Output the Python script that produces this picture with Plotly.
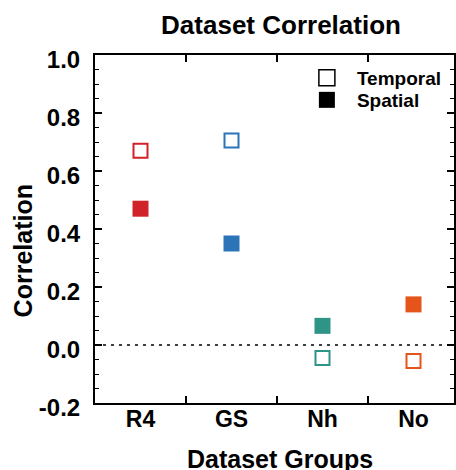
import plotly.graph_objects as go

groups = ["R4", "GS", "Nh", "No"]
temporal = [0.67, 0.705, -0.045, -0.055]
spatial = [0.47, 0.35, 0.066, 0.14]
colors = ["#d1222a", "#2c74b8", "#2f9488", "#e5541b"]
yticks = [-0.2, 0.0, 0.2, 0.4, 0.6, 0.8, 1.0]
ytick_labels = ["-0.2", "0.0", "0.2", "0.4", "0.6", "0.8", "1.0"]

FONT = "Liberation Sans, Arial, Helvetica, sans-serif"

L, T, B, H, W = 95, 55, 403, 470, 456
PW = W - L
PH = B - T

def px_x(x):
    return (x - L) / PW

def px_y(y):
    return (B - y) / PH

fig = go.Figure()

# Data traces
fig.add_trace(go.Scatter(
    x=groups, y=temporal, mode="markers", showlegend=False,
    marker=dict(symbol="square-open", size=14, color=colors, line=dict(width=2, color=colors)),
))
fig.add_trace(go.Scatter(
    x=groups, y=spatial, mode="markers", showlegend=False,
    marker=dict(symbol="square", size=16, color=colors, line=dict(width=0)),
))

# Legend entries (black)
fig.add_trace(go.Scatter(
    x=[None], y=[None], mode="markers", name="Temporal", legend="legend",
    marker=dict(symbol="square-open", size=16, color="black", line=dict(width=1.5, color="black")),
))
fig.add_trace(go.Scatter(
    x=[None], y=[None], mode="markers", name="Spatial", legend="legend2",
    marker=dict(symbol="square", size=16, color="black"),
))

# zero reference line
fig.add_shape(type="line", xref="paper", yref="y", x0=0, x1=1, y0=0, y1=0,
              line=dict(color="black", width=1.5, dash="3px,5px"))

legend_common = dict(xanchor="left", yanchor="middle",
                     bgcolor="rgba(0,0,0,0)", borderwidth=0, itemwidth=50,
                     font=dict(size=19, family=FONT, weight="bold", color="black"))

fig.update_layout(
    width=W, height=H,
    margin=dict(l=L, r=0, t=T, b=H - B),
    paper_bgcolor="white", plot_bgcolor="white",
    font=dict(family=FONT, color="black", size=22, weight="bold"),
    title=dict(text="Dataset Correlation", x=281/W, xref="container", xanchor="center",
               y=1 - 25/H, yref="container", yanchor="middle",
               font=dict(size=26, family=FONT, weight="bold", color="black")),
    showlegend=True,
    legend=dict(x=px_x(298), y=px_y(78), **legend_common),
    legend2=dict(x=px_x(298), y=px_y(100), **legend_common),
    xaxis=dict(
        type="category", categoryorder="array", categoryarray=groups,
        range=[-0.5, 3.445], tickson="boundaries",
        showline=True, linewidth=2, linecolor="black", mirror="ticks",
        ticks="inside", ticklen=7, tickwidth=1.5, tickcolor="black",
        showgrid=False, zeroline=False,
        tickfont=dict(size=23, family=FONT, weight="bold"),
        ticklabelstandoff=-6,
    ),
    yaxis=dict(
        range=[-0.2, 1.0], tickvals=yticks, ticktext=ytick_labels,
        showline=True, linewidth=2, linecolor="black", mirror="ticks",
        ticks="inside", ticklen=7, tickwidth=1.5, tickcolor="black",
        minor=dict(dtick=0.05, ticks="inside", ticklen=4, tickwidth=1.2, tickcolor="black", showgrid=False),
        showgrid=False, zeroline=False,
        tickfont=dict(size=24, family=FONT, weight="bold"),
        ticklabelstandoff=8,
        ticklabelshift=5,
    ),
)

# axis titles
fig.add_annotation(text="Correlation", xref="paper", yref="paper",
                   x=px_x(23), y=px_y(251), xanchor="center", yanchor="middle",
                   textangle=-90, showarrow=False,
                   font=dict(size=25, family=FONT, weight="bold", color="black"))
fig.add_annotation(text="Dataset Groups", xref="paper", yref="paper",
                   x=px_x(281), y=px_y(459), xanchor="center", yanchor="middle",
                   showarrow=False,
                   font=dict(size=25, family=FONT, weight="bold", color="black"))

fig.write_html("out.html", config={"displayModeBar": False},
               post_script="document.body.style.margin='0px';document.body.style.overflow='hidden';")
